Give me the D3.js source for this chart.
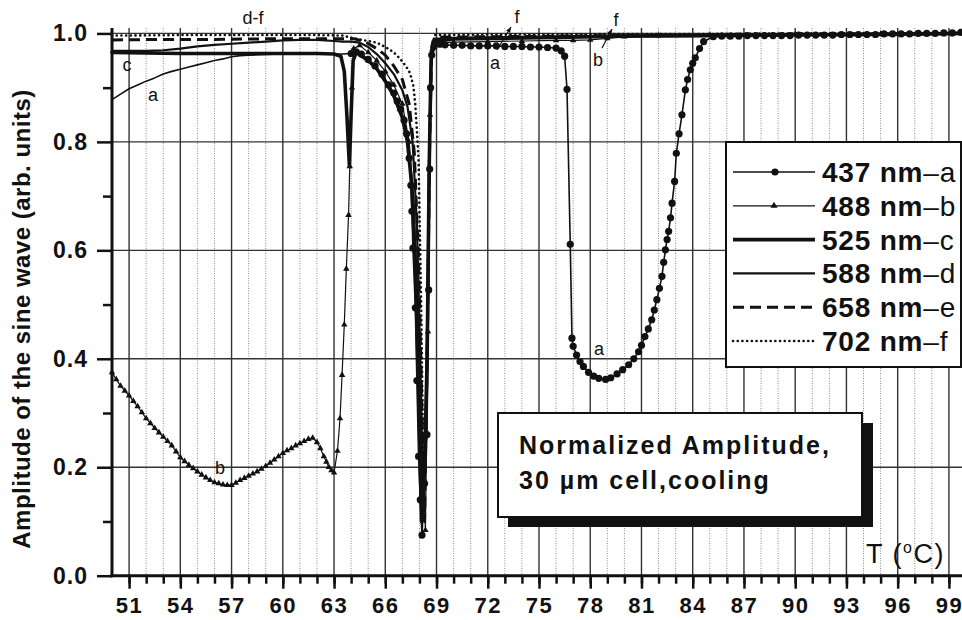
<!DOCTYPE html>
<html>
<head>
<meta charset="utf-8">
<script src="https://cdn.jsdelivr.net/npm/d3@7"></script>
<style>
  body { margin: 0; background: #fff; }
  svg { display: block; font-family: "Liberation Sans", Arial, sans-serif; }
</style>
</head>
<body>
<script>
//chart values, [T in °C, amplitude]
var seriesA = [
  [50,0.878],[50.5,0.888],[51,0.898],[51.5,0.905],[52,0.912],[52.5,0.918],[53,0.925],[53.5,0.93],
  [54,0.934],[54.5,0.938],[55,0.942],[55.5,0.946],[56,0.95],[56.5,0.953],[57,0.957],[57.5,0.959],
  [58,0.96],[59,0.961],[60,0.962],[61,0.962],[62,0.963],[63,0.962],[63.5,0.962],[64,0.963],
  [64.3,0.966],[64.6,0.962],[65,0.952],[65.4,0.94],[65.8,0.925],[66.2,0.905],[66.5,0.89],[66.7,0.875],
  [66.9,0.86],[67.1,0.84],[67.25,0.815],[67.4,0.77],[67.5,0.72],[67.56,0.672],[67.62,0.604],[67.76,0.494],
  [67.85,0.36],[67.95,0.22],[68.05,0.14],[68.15,0.075],[68.3,0.17],[68.44,0.26],[68.54,0.527],[68.6,0.75],
  [68.65,0.9],[68.72,0.96],[68.85,0.976],[69.2,0.98],[69.5,0.979],[70,0.978],[70.5,0.978],[71,0.977],
  [71.5,0.977],[72,0.977],[72.5,0.977],[73,0.976],[73.5,0.976],[74,0.976],[74.5,0.975],[75,0.975],
  [75.5,0.974],[76,0.973],[76.3,0.968],[76.5,0.958],[76.64,0.897],[76.83,0.611],[76.93,0.438],[77.0,0.423],
  [77.2,0.407],[77.4,0.395],[77.6,0.386],[77.9,0.375],[78.2,0.368],[78.5,0.364],[78.9,0.362],[79.2,0.365],
  [79.57,0.372],[79.9,0.38],[80.25,0.389],[80.55,0.4],[80.83,0.413],[81.0,0.425],[81.2,0.441],[81.4,0.455],
  [81.6,0.472],[81.75,0.49],[81.9,0.509],[82.05,0.53],[82.2,0.552],[82.3,0.578],[82.4,0.601],[82.5,0.62],
  [82.59,0.635],[82.7,0.66],[82.79,0.687],[82.94,0.727],[83.04,0.779],[83.2,0.815],[83.37,0.85],[83.57,0.896],
  [83.7,0.915],[83.86,0.933],[84.0,0.945],[84.15,0.955],[84.4,0.972],[84.64,0.985],[85.2,0.994],[85.7,0.995],
  [86.2,0.995],[86.7,0.995],[87.2,0.996],[87.7,0.996],[88.2,0.996],[88.7,0.996],[89.2,0.996],[89.7,0.996],
  [90.2,0.997],[90.7,0.997],[91.2,0.997],[91.7,0.997],[92.2,0.997],[92.7,0.998],[93.2,0.998],[93.7,0.998],
  [94.2,0.998],[94.7,0.998],[95.2,0.999],[95.7,0.999],[96.2,0.999],[96.7,0.999],[97.2,1.0],[97.7,1.0],
  [98.2,1.0],[98.7,1.001],[99.2,1.001],[99.7,1.002]
];
var seriesB = [
  [50,0.375],[50.25,0.362],[50.5,0.35],[50.75,0.341],[51,0.332],[51.25,0.322],[51.5,0.312],[51.75,0.301],
  [52,0.29],[52.25,0.281],[52.5,0.272],[52.75,0.264],[53,0.256],[53.25,0.248],[53.5,0.24],[53.75,0.229],
  [54,0.218],[54.25,0.211],[54.5,0.204],[54.75,0.198],[55,0.192],[55.25,0.186],[55.5,0.181],[55.75,0.176],
  [56,0.172],[56.25,0.17],[56.5,0.168],[56.75,0.167],[57,0.167],[57.25,0.171],[57.5,0.176],[57.75,0.18],
  [58,0.184],[58.25,0.188],[58.5,0.192],[58.75,0.197],[59,0.202],[59.25,0.208],[59.5,0.214],[59.75,0.22],
  [60,0.226],[60.25,0.231],[60.5,0.235],[60.75,0.24],[61,0.244],[61.25,0.248],[61.5,0.252],[61.75,0.254],
  [62,0.246],[62.2,0.235],[62.4,0.22],[62.55,0.21],[62.7,0.2],[62.85,0.194],[63,0.19],[63.2,0.23],
  [63.35,0.29],[63.47,0.37],[63.6,0.463],[63.72,0.566],[63.85,0.665],[63.92,0.755],[64.05,0.9],[64.15,0.972],
  [64.5,0.978],[65,0.965],[65.5,0.95],[66,0.93],[66.5,0.905],[67,0.87],[67.4,0.8],[67.7,0.68],
  [67.95,0.45],[68.2,0.2],[68.35,0.084],[68.5,0.45],[68.62,0.85],[68.75,0.97],[69,0.982],[70,0.984],
  [72,0.985],[74,0.986],[76,0.987],[77,0.987],[78,0.988],[79,0.991],[80,0.994],[82,0.996],
  [85,0.997],[90,0.998],[95,0.999],[100,1.0]
];
var seriesC = [
  [50,0.965],[52,0.964],[54,0.963],[56,0.963],[58,0.963],[60,0.963],[62,0.963],[63,0.962],
  [63.4,0.958],[63.6,0.93],[63.75,0.85],[63.9,0.755],[64.0,0.85],[64.12,0.95],[64.3,0.965],[65,0.95],
  [65.5,0.935],[66,0.912],[66.5,0.885],[67,0.845],[67.3,0.8],[67.55,0.72],[67.75,0.58],[67.95,0.35],
  [68.12,0.1],[68.3,0.2],[68.45,0.4],[68.57,0.75],[68.68,0.95],[68.8,0.985],[70,0.99],[75,0.992],
  [80,0.995],[85,0.996],[90,0.997],[95,0.998],[100,1.0]
];
var seriesD = [
  [50,0.968],[52,0.968],[53,0.969],[54,0.972],[55,0.976],[56,0.979],[57,0.981],[58,0.983],
  [59,0.985],[60,0.987],[61,0.988],[62,0.988],[63,0.986],[63.5,0.985],[64,0.985],[64.5,0.983],
  [65,0.975],[65.5,0.962],[66,0.945],[66.5,0.925],[67,0.895],[67.3,0.865],[67.6,0.8],[67.85,0.65],
  [68.05,0.4],[68.22,0.12],[68.4,0.35],[68.55,0.7],[68.68,0.94],[68.85,0.99],[70,0.992],[75,0.994],
  [80,0.996],[85,0.997],[90,0.998],[95,0.999],[100,1.001]
];
var seriesE = [
  [50,0.988],[53,0.989],[56,0.989],[59,0.99],[62,0.99],[63.5,0.99],[64.2,0.99],[64.8,0.985],
  [65.5,0.972],[66,0.96],[66.5,0.94],[67,0.915],[67.4,0.87],[67.7,0.78],[67.95,0.58],[68.15,0.3],
  [68.3,0.1],[68.45,0.4],[68.6,0.8],[68.72,0.97],[68.9,0.993],[72,0.994],[76,0.995],[80,0.996],
  [85,0.997],[90,0.998],[95,0.999],[100,1.0]
];
var seriesF = [
  [50,0.996],[54,0.997],[58,0.997],[62,0.997],[63.5,0.996],[64.3,0.99],[65,0.986],[65.5,0.983],
  [66,0.975],[66.5,0.965],[66.9,0.952],[67.2,0.94],[67.45,0.927],[67.65,0.902],[67.75,0.872],[67.85,0.822],
  [67.95,0.767],[68.1,0.5],[68.25,0.15],[68.4,0.3],[68.55,0.75],[68.7,0.97],[68.9,0.997],[72,0.998],
  [76,0.998],[80,0.999],[85,0.999],[90,1.0],[95,1.0],[100,1.001]
];
//legend names and axis ticks
var legendNums = ["437 nm", "488 nm", "525 nm", "588 nm", "658 nm", "702 nm"];
var legendTags = ["\u2013a", "\u2013b", "\u2013c", "\u2013d", "\u2013e", "\u2013f"];
var xMajorTicks = d3.range(51, 100, 3);
var xMinorTicks = d3.range(50, 101, 1);
var yMajorTicks = [0, 0.2, 0.4, 0.6, 0.8, 1.0];
var yMinorTicks = [0.1, 0.3, 0.5, 0.7, 0.9];

//properties of the screen
var widthScr = 962;
var heightScr = 620;
var plotL = 112, plotR = 966, plotT = 28, plotB = 575.7;
var canvas, x, y;

//style of each series: same order as legend
var styles = [
  {data: seriesA, width: 1.6, dash: null, marker: "dot"},
  {data: seriesB, width: 1.2, dash: null, marker: "tri"},
  {data: seriesC, width: 3.6, dash: null, marker: null},
  {data: seriesD, width: 2.2, dash: null, marker: null},
  {data: seriesE, width: 3, dash: "11,6", marker: null},
  {data: seriesF, width: 2.6, dash: "0.1,4.6", marker: null}
];

function start() {
  createScreen();
  drawGrid();
  drawSeries();
  drawAxes();
  drawNotes();
  drawLegend();
  drawBox();
}

function createScreen() {
  canvas = d3.select("body").append("svg")
    .attr("width", widthScr)
    .attr("height", heightScr);
  canvas.append("rect").attr("width", widthScr).attr("height", heightScr).attr("fill", "#fff");
  x = d3.scaleLinear().domain([50, 100]).range([plotL, plotR]);
  y = d3.scaleLinear().domain([0, 1.01]).range([plotB, plotT]);
}

function drawGrid() {
  var g = canvas.append("g");
  //dotted lines every degree
  g.selectAll(".minor").data(xMinorTicks.filter(function(t) { return (t - 51) % 3 !== 0 && t > 50; }))
    .enter().append("line")
    .attr("x1", function(d) { return x(d); }).attr("x2", function(d) { return x(d); })
    .attr("y1", plotT).attr("y2", plotB)
    .attr("stroke", "#8a8a8a").attr("stroke-width", 1).attr("stroke-dasharray", "1,1.5");
  //solid lines every 3 degrees
  g.selectAll(".major").data(xMajorTicks).enter().append("line")
    .attr("x1", function(d) { return x(d); }).attr("x2", function(d) { return x(d); })
    .attr("y1", plotT).attr("y2", plotB)
    .attr("stroke", "#333").attr("stroke-width", 1.4);
  g.selectAll(".hgrid").data(yMajorTicks.slice(1)).enter().append("line")
    .attr("x1", plotL).attr("x2", widthScr)
    .attr("y1", function(d) { return y(d); }).attr("y2", function(d) { return y(d); })
    .attr("stroke", "#333").attr("stroke-width", 1.4);
}

function drawSeries() {
  var line = d3.line().x(function(d) { return x(d[0]); }).y(function(d) { return y(d[1]); });
  styles.slice().reverse().forEach(function(s) {
    canvas.append("path")
      .attr("d", line(s.data))
      .attr("fill", "none")
      .attr("stroke", "#111")
      .attr("stroke-width", s.width)
      .attr("stroke-linecap", s.dash ? (s.dash.indexOf("0.1") === 0 ? "round" : "butt") : "round")
      .attr("stroke-linejoin", "round")
      .attr("stroke-dasharray", s.dash);
  });
  //triangles on 488 nm
  canvas.selectAll(".tri").data(seriesB).enter().append("path")
    .attr("d", d3.symbol().type(d3.symbolTriangle).size(18))
    .attr("transform", function(d) { return "translate(" + x(d[0]) + "," + y(d[1]) + ")"; })
    .attr("fill", "#111");
  //dots on 437 nm
  canvas.selectAll(".dot").data(seriesA.filter(function(d) { return d[0] >= 64; }))
    .enter().append("circle")
    .attr("cx", function(d) { return x(d[0]); })
    .attr("cy", function(d) { return y(d[1]); })
    .attr("r", 3.6)
    .attr("fill", "#111");
}

function drawAxes() {
  var xAxis = canvas.append("g").attr("transform", "translate(0," + plotB + ")");
  xAxis.call(d3.axisBottom(x).tickValues(xMinorTicks.filter(function(t) { return t > 50; }))
    .tickSize(8).tickFormat(""));
  xAxis.select(".domain").remove();
  var xMaj = canvas.append("g").attr("transform", "translate(0," + plotB + ")")
    .call(d3.axisBottom(x).tickValues(xMajorTicks).tickSize(13).tickPadding(9).tickFormat(d3.format("d")));
  xMaj.select(".domain").remove();
  xMaj.selectAll("text").attr("font-size", 22).attr("font-weight", "bold")
    .attr("letter-spacing", 1.5).attr("fill", "#111");

  var yAxis = canvas.append("g").attr("transform", "translate(" + plotL + ",0)");
  yAxis.call(d3.axisLeft(y).tickValues(yMinorTicks).tickSize(9).tickFormat(""));
  yAxis.select(".domain").remove();
  var yMaj = canvas.append("g").attr("transform", "translate(" + plotL + ",0)")
    .call(d3.axisLeft(y).tickValues(yMajorTicks).tickSize(15).tickPadding(9).tickFormat(d3.format(".1f")));
  yMaj.select(".domain").remove();
  canvas.selectAll(".tick line").attr("stroke", "#111").attr("stroke-width", 2.5);
  yMaj.selectAll("text").attr("font-size", 23).attr("font-weight", "bold")
    .attr("letter-spacing", 1).attr("fill", "#111");

  canvas.append("line").attr("x1", plotL).attr("x2", plotL).attr("y1", plotT).attr("y2", plotB + 1.5)
    .attr("stroke", "#111").attr("stroke-width", 3);
  canvas.append("line").attr("x1", plotL - 1.5).attr("x2", widthScr).attr("y1", plotB).attr("y2", plotB)
    .attr("stroke", "#111").attr("stroke-width", 3);

  canvas.append("text")
    .attr("transform", "translate(30,319) rotate(-90)")
    .attr("text-anchor", "middle")
    .attr("font-size", 24).attr("font-weight", "bold").attr("letter-spacing", 0.5)
    .attr("fill", "#111")
    .text("Amplitude of the sine wave (arb. units)");

  var tl = canvas.append("text").attr("x", 866).attr("y", 563)
    .attr("font-size", 27).attr("fill", "#111").attr("letter-spacing", 1.5);
  tl.append("tspan").text("T (");
  tl.append("tspan").attr("dy", -10).attr("font-size", 16).text("o");
  tl.append("tspan").attr("dy", 10).text("C)");
}

//small letters naming the curves
function drawNotes() {
  var notes = [
    {t: "c", x: 127, y: 71}, {t: "a", x: 153, y: 101}, {t: "d-f", x: 253, y: 24},
    {t: "f", x: 517, y: 23}, {t: "a", x: 495, y: 69}, {t: "f", x: 616, y: 26},
    {t: "b", x: 598, y: 66}, {t: "b", x: 220, y: 474}, {t: "a", x: 599, y: 355}
  ];
  canvas.selectAll(".note").data(notes).enter().append("text")
    .attr("x", function(d) { return d.x; }).attr("y", function(d) { return d.y; })
    .attr("text-anchor", "middle").attr("font-size", 18).attr("fill", "#111")
    .text(function(d) { return d.t; });
  var arrows = [[497, 50, 511, 27], [602, 48, 612, 29]];
  arrows.forEach(function(a) {
    canvas.append("line").attr("x1", a[0]).attr("y1", a[1]).attr("x2", a[2]).attr("y2", a[3])
      .attr("stroke", "#111").attr("stroke-width", 1.2);
    var ang = Math.atan2(a[3] - a[1], a[2] - a[0]);
    var p = [[a[2], a[3]],
      [a[2] - 6 * Math.cos(ang - 0.4), a[3] - 6 * Math.sin(ang - 0.4)],
      [a[2] - 6 * Math.cos(ang + 0.4), a[3] - 6 * Math.sin(ang + 0.4)]];
    canvas.append("path").attr("d", d3.line()(p) + "Z").attr("fill", "#111");
  });
}

function drawLegend() {
  var lg = canvas.append("g");
  lg.append("rect").attr("x", 726).attr("y", 142).attr("width", 235).attr("height", 225)
    .attr("fill", "#fff").attr("stroke", "#111").attr("stroke-width", 2);
  var rows = lg.selectAll(".row").data(styles).enter().append("g")
    .attr("transform", function(d, i) { return "translate(0," + (172 + i * 33.8) + ")"; });
  rows.append("line").attr("x1", 733).attr("x2", 815).attr("y1", 0).attr("y2", 0)
    .attr("stroke", "#111")
    .attr("stroke-width", function(d) { return d.width; })
    .attr("stroke-linecap", function(d) { return d.dash && d.dash.indexOf("0.1") === 0 ? "round" : "butt"; })
    .attr("stroke-dasharray", function(d) { return d.dash; });
  rows.filter(function(d) { return d.marker === "dot"; }).append("circle")
    .attr("cx", 775).attr("cy", 0).attr("r", 3.6).attr("fill", "#111");
  rows.filter(function(d) { return d.marker === "tri"; }).append("path")
    .attr("d", d3.symbol().type(d3.symbolTriangle).size(22))
    .attr("transform", "translate(774,0)").attr("fill", "#111");
  var txt = rows.append("text").attr("x", 822).attr("y", 10)
    .attr("font-size", 28).attr("fill", "#111").attr("letter-spacing", 0.8);
  txt.append("tspan").attr("font-weight", "bold").text(function(d, i) { return legendNums[i]; });
  txt.append("tspan").text(function(d, i) { return legendTags[i]; });
}

function drawBox() {
  var bx = canvas.append("g");
  bx.append("rect").attr("x", 508).attr("y", 423).attr("width", 365).attr("height", 104).attr("fill", "#111");
  bx.append("rect").attr("x", 498).attr("y", 413).attr("width", 364).attr("height", 104)
    .attr("fill", "#fff").attr("stroke", "#111").attr("stroke-width", 2);
  bx.append("text").attr("x", 519).attr("y", 454).attr("font-size", 25).attr("font-weight", "bold")
    .attr("letter-spacing", 2).attr("fill", "#111").text("Normalized Amplitude,");
  bx.append("text").attr("x", 519).attr("y", 489).attr("font-size", 25).attr("font-weight", "bold")
    .attr("letter-spacing", 2).attr("fill", "#111").text("30 \u00b5m cell,cooling");
}

start();
</script>
</body>
</html>
